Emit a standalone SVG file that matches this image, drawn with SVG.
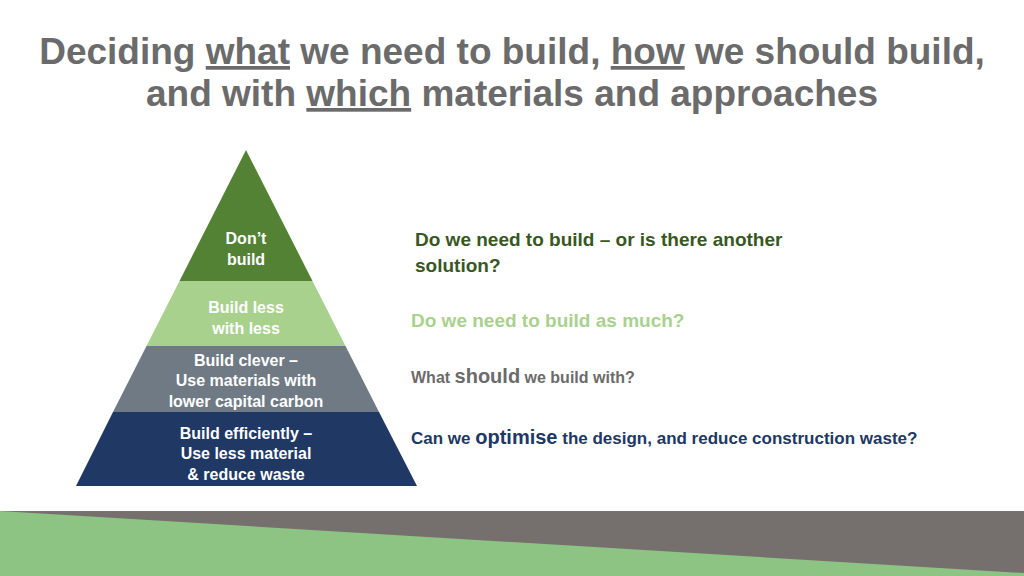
<svg xmlns="http://www.w3.org/2000/svg" width="1024" height="576" viewBox="0 0 1024 576">
<style>
.t{font-family:"Liberation Sans",Arial,sans-serif;font-weight:bold}
.h{font-size:37px;fill:#6b6b6b;text-anchor:middle}
.p{font-size:16px;fill:#fff;text-anchor:middle}
.q{font-size:19px}
</style>
<rect width="1024" height="576" fill="#fff"/>
<g id="title" class="t h">
<text x="512" y="64">Deciding <tspan text-decoration="underline">what</tspan> we need to build, <tspan text-decoration="underline">how</tspan> we should build,</text>
<text x="512" y="106">and with <tspan text-decoration="underline">which</tspan> materials and approaches</text>
</g>
<g id="n1"><polygon points="246,150 312.5,281 179.5,281" fill="#548235"/><text class="t p" x="246" y="244">Don’t</text><text class="t p" x="246" y="265">build</text></g>
<g id="n2"><polygon points="179.5,281 312.5,281 345.5,346 146.5,346" fill="#a9d18e"/><text class="t p" x="246" y="313">Build less</text><text class="t p" x="246" y="334">with less</text></g>
<g id="n3"><polygon points="146.5,346 345.5,346 379,412 113,412" fill="#6f7a85"/><text class="t p" x="246" y="366">Build clever –</text><text class="t p" x="246" y="386">Use materials with</text><text class="t p" x="246" y="407">lower capital carbon</text></g>
<g id="n4"><polygon points="113,412 379,412 417,486 76,486" fill="#203864"/><text class="t p" x="246" y="439">Build efficiently –</text><text class="t p" x="246" y="459">Use less material</text><text class="t p" x="246" y="480">&amp; reduce waste</text></g>
<g id="labels" class="t">
<text x="415" y="246" font-size="19" fill="#385723">Do we need to build – or is there another</text>
<text x="415" y="272" font-size="19" fill="#385723">solution?</text>
<text x="411" y="327" font-size="19" fill="#a9d18e">Do we need to build as much?</text>
<text x="411" y="383" font-size="16" fill="#6b6b6b">What <tspan font-size="20">should</tspan> we build with?</text>
<text x="411" y="444" font-size="17" fill="#203864">Can we <tspan font-size="20">optimise</tspan> the design, and reduce construction waste?</text>
</g>
<g id="connectors"/>
<rect x="0" y="511" width="1024" height="65" fill="#756f6d"/>
<polygon points="0,511 1024,573 1024,576 0,576" fill="#8dc383"/>
</svg>
